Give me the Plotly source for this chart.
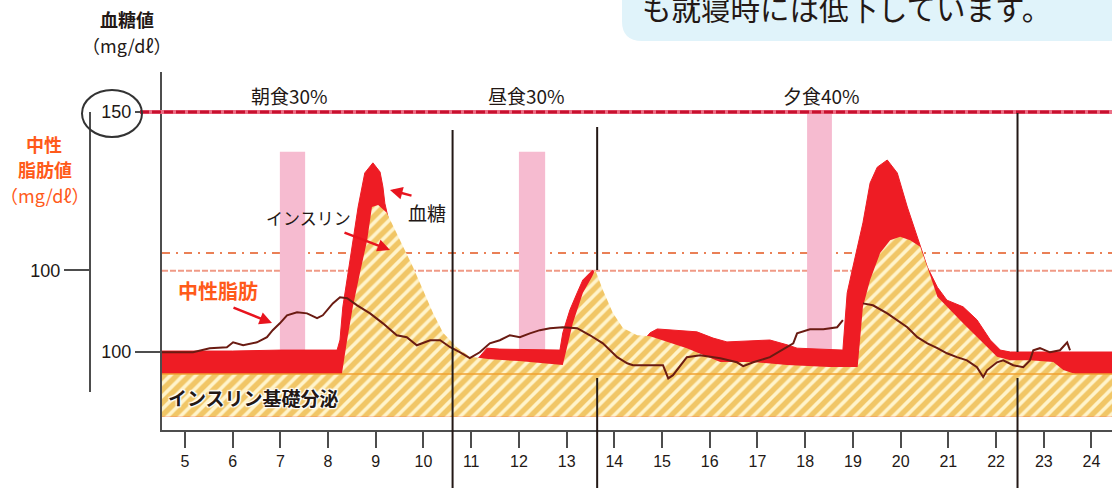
import plotly.graph_objects as go

# ---------------- data ----------------
hour_ticks = list(range(5, 25))
x_range = [4.52, 24.43]

# blood glucose (mg/dl)
glucose_h = [4.52, 6.0, 7.0, 8.19, 8.25, 8.31, 8.42, 8.52, 8.63, 8.77, 8.94,
             9.09, 9.15, 9.19, 9.23, 9.34, 9.61, 9.93, 10.35, 10.77, 11.08, 11.33,
             11.6, 12.5, 12.86, 12.92, 13.07, 13.22, 13.34, 13.49, 13.55, 13.70,
             13.91, 14.22, 14.54, 14.75, 14.90, 15.73, 16.07, 16.36, 17.26, 17.62,
             17.83, 18.79, 18.88, 19.0, 19.21, 19.36, 19.51, 19.72, 19.93, 20.14,
             20.35, 20.56, 20.77, 20.97, 21.31, 21.60, 21.88, 22.09, 22.30, 24.43]
glucose_v = [100.2, 100.2, 100.4, 100.4, 102.5, 109.4, 116.5, 123.3, 130.2, 137.3, 139.4,
             137.5, 134.4, 131.0, 129.2, 124.4, 117.1, 109.8, 101.5, 98.75, 97.9, 100.8,
             100.6, 100.4, 100.4, 104.0, 108.8, 112.3, 115.0, 116.5, 117.1, 112.9,
             106.7, 102.5, 101.5, 104.0, 104.8, 104.2, 102.9, 102.1, 102.5, 101.5,
             100.8, 100.4, 112.3, 117.7, 126.9, 135.2, 138.5, 140.0, 137.3, 130.2,
             124.0, 117.7, 113.5, 110.8, 109.4, 106.7, 102.5, 100.4, 100.0, 100.0]

# insulin (drawn on glucose scale)
insulin_h = [4.52, 8.29, 8.40, 8.52, 8.67, 8.82, 8.92, 9.05, 9.23, 9.51, 9.78, 9.99,
             10.20, 10.41, 10.70, 10.97, 11.4, 12.0, 12.92, 13.13, 13.34, 13.53, 13.60,
             13.76, 13.97, 14.18, 14.48, 14.75, 15.52, 16.22, 16.91, 17.62, 18.5, 19.10,
             19.21, 19.36, 19.57, 19.78, 19.99, 20.20, 20.41, 20.56, 20.77, 21.31, 21.67,
             22.02, 22.30, 22.71, 23.20, 23.41, 23.66, 24.43]
insulin_v = [95.4, 95.4, 102.5, 109.4, 116.5, 123.3, 130.2, 130.6, 129.0, 123.3, 117.7, 112.9,
             108.1, 104.0, 101.0, 99.0, 98.5, 98.1, 97.3, 106.0, 112.3, 115.6, 117.1,
             112.9, 108.1, 105.0, 103.5, 103.3, 100.8, 97.9, 97.9, 97.3, 96.9, 96.9,
             109.4, 115.0, 120.6, 123.3, 124.0, 123.3, 121.9, 117.7, 111.5, 106.0, 102.5,
             99.0, 98.3, 98.3, 97.9, 96.25, 95.4, 95.4]

basal_top = 95.4
basal_bottom = 86.5

# triglyceride (own scale, 100 tick)
tg_h = [4.52, 5.17, 5.52, 5.88, 6.01, 6.22, 6.51, 6.72, 6.84, 6.99, 7.14, 7.35, 7.56,
        7.77, 7.89, 8.10, 8.25, 8.40, 8.61, 8.88, 9.15, 9.44, 9.65, 9.86, 10.14, 10.35,
        10.56, 10.77, 10.97, 11.18, 11.39, 11.60, 11.81, 12.02, 12.23, 12.44, 12.65,
        12.92, 13.22, 13.49, 13.76, 14.06, 14.27, 14.39, 15.02, 15.13, 15.23, 15.52,
        15.80, 16.22, 16.57, 16.70, 16.91, 17.26, 17.75, 17.83, 18.10, 18.38, 18.67,
        18.79, None, 19.21, 19.42, 19.72, 19.93, 20.14, 20.35, 20.56, 20.77, 20.97,
        21.18, 21.39, 21.60, 21.73, 21.81, 22.02, 22.15, 22.36, 22.57, 22.71, 22.78,
        22.92, 23.13, 23.34, 23.49, 23.55]
tg_v = [66.3, 66.3, 68.0, 68.4, 70.4, 69.2, 70.4, 72.5, 75.4, 78.2, 81.5, 82.75, 82.3,
        80.3, 81.5, 86.4, 88.9, 88.5, 85.6, 82.3, 78.2, 73.3, 72.5, 69.2, 71.25, 71.25,
        68.4, 66.3, 63.9, 66.3, 70.0, 71.25, 73.3, 72.5, 74.1, 75.4, 76.2,
        76.6, 76.2, 73.3, 70.0, 64.3, 61.8, 61.0, 61.0, 55.6, 56.9, 64.3,
        65.1, 63.9, 62.2, 60.6, 62.2, 64.3, 70.0, 74.1, 75.8, 75.8, 76.6,
        79.5, None, 86.4, 85.6, 82.3, 79.5, 76.6, 72.5, 70.0, 68.0, 65.9,
        64.3, 63.0, 60.2, 56.1, 58.9, 62.2, 63.0, 61.0, 60.2, 63.0, 67.15,
        68.0, 66.3, 67.15, 70.4, 67.15]

meal_labels = ["朝食30%", "昼食30%", "夕食40%"]
meal_label_h = [7.2, 12.15, 18.35]
meal_start = [6.99, 12.0, 18.04]
meal_end = [7.52, 12.55, 18.56]
meal_top = [141.7, 141.7, 149.8]

glucose_limit = 150
tg_ref_upper = 120.6
tg_ref_lower = 116.9

# ---------------- layout helpers ----------------
W, H = 1112, 488
L, R, T, B = 90, 0, 72, 58


def px(x):
    return (x - L) / (W - L - R)


def py(y):
    return (H - B - y) / (H - T - B)


JP = "Noto Sans CJK JP"
NUM = "Liberation Sans, Arial, sans-serif"
INK = "#231815"
ORANGE = "#FF5A1A"
RED = "#EE1C24"
AXIS = "#4d4d4d"

fig = go.Figure()

# glucose red fill
fig.add_trace(go.Scatter(x=x_range, y=[basal_bottom, basal_bottom], mode="lines",
                         line=dict(width=0), hoverinfo="skip", showlegend=False))
fig.add_trace(go.Scatter(x=glucose_h, y=glucose_v, mode="lines", fill="tonexty",
                         fillcolor=RED, line=dict(color=RED, width=1),
                         showlegend=False, name="血糖"))
# insulin hatched fill (incl. basal)
fig.add_trace(go.Scatter(x=x_range, y=[basal_bottom, basal_bottom], mode="lines",
                         line=dict(width=0), hoverinfo="skip", showlegend=False))
fig.add_trace(go.Scatter(x=insulin_h, y=insulin_v, mode="lines", fill="tonexty",
                         fillcolor="#FFF4CC",
                         fillpattern=dict(shape="/", fgcolor="#E39800", bgcolor="#FFF4CC",
                                          size=9, solidity=0.6),
                         line=dict(width=0), showlegend=False, name="インスリン"))
# basal top orange line
fig.add_trace(go.Scatter(x=x_range, y=[basal_top, basal_top], mode="lines",
                         line=dict(color="#F0A030", width=1.5), hoverinfo="skip",
                         showlegend=False))
# triglyceride line
fig.add_trace(go.Scatter(x=tg_h, y=tg_v, mode="lines", xaxis="x", yaxis="y2",
                         line=dict(color="#6A1B12", width=2), connectgaps=False,
                         showlegend=False, name="中性脂肪"))

shapes = []
# meal bars
for s, e, t in zip(meal_start, meal_end, meal_top):
    shapes.append(dict(type="rect", xref="x", yref="y", x0=s, x1=e, y0=100, y1=t,
                       fillcolor="#F6BBD0", line=dict(width=0), layer="below"))
# TG reference lines
shapes.append(dict(type="line", xref="paper", yref="y", x0=px(162), x1=1,
                   y0=tg_ref_upper, y1=tg_ref_upper, layer="below",
                   line=dict(color="#EA8056", width=2, dash="8px,6px,2px,6px")))
shapes.append(dict(type="line", xref="paper", yref="y", x0=px(162), x1=1,
                   y0=tg_ref_lower, y1=tg_ref_lower, layer="below",
                   line=dict(color="#F09A86", width=2, dash="6px,2px")))
# glucose 150 limit line
shapes.append(dict(type="line", xref="paper", yref="y", x0=px(140), x1=1,
                   y0=glucose_limit, y1=glucose_limit, layer="above",
                   line=dict(color="#EC6F86", width=4)))
shapes.append(dict(type="line", xref="paper", yref="y", x0=px(140), x1=1,
                   y0=glucose_limit, y1=glucose_limit, layer="above",
                   line=dict(color="#C8102E", width=3, dash="9px,3px")))
# vertical divider segments
for xh, segs in [(10.61, [(130, 488)]),
                 (13.64, [(127, 270), (378, 488)]),
                 (22.45, [(113, 352), (378, 488)])]:
    for y0, y1 in segs:
        shapes.append(dict(type="line", xref="x", yref="paper", x0=xh, x1=xh,
                           y0=py(y1), y1=py(y0), layer="above",
                           line=dict(color=INK, width=2)))
# ellipse around 150
shapes.append(dict(type="circle", xref="paper", yref="paper", x0=px(82), x1=px(142),
                   y0=py(137), y1=py(90), line=dict(color="#333333", width=2)))
# top callout box
path = (f"M {px(622)},{py(-6)} L {px(1120)},{py(-6)} L {px(1120)},{py(41)} "
        f"L {px(642)},{py(41)} Q {px(622)},{py(41)} {px(622)},{py(21)} Z")
shapes.append(dict(type="path", xref="paper", yref="paper", path=path,
                   fillcolor="#E0F3FA", line=dict(width=0), layer="above"))

annotations = []


def txt(text, x, y, size, color=INK, bold=False, family=JP, **kw):
    annotations.append(dict(text=text, xref="paper", yref="paper", x=px(x), y=py(y),
                            xanchor=kw.pop("xanchor", "center"), yanchor="middle",
                            showarrow=False,
                            font=dict(family=family, size=size, color=color,
                                      weight=700 if bold else 400, **kw.pop("fontkw", {})),
                            **kw))


txt("も就寝時には低下しています。", 640, 7, 29.5, xanchor="left")
txt("血糖値", 127, 19, 18, bold=True)
txt("（mg/dℓ）", 127, 45, 18)
txt("中性", 44, 144, 18, color=ORANGE, bold=True)
txt("脂肪値", 45, 169, 18, color=ORANGE, bold=True)
txt("（mg/dℓ）", 45, 195, 18, color=ORANGE)
for lab, h in zip(meal_labels, meal_label_h):
    annotations.append(dict(text=lab, xref="x", yref="paper", x=h, y=py(95),
                            xanchor="center", yanchor="middle", showarrow=False,
                            font=dict(family=JP, size=19, color=INK)))
txt("インスリン", 308, 217, 17)
txt("血糖", 427, 212, 19)
txt("中性脂肪", 218, 290, 20, color=ORANGE, bold=True)
txt("インスリン基礎分泌", 253, 397, 19, bold=True,
    fontkw=dict(shadow="1px 1px 1px #fff, -1px -1px 1px #fff, 1px -1px 1px #fff, "
                       "-1px 1px 1px #fff, 0 0 3px #fff"))

# arrows
for hx, hy, ax, ay in [(390, 190, 23, 6), (390, 250, -47, -18), (272, 323, -40, -16)]:
    annotations.append(dict(text="", xref="paper", yref="paper", x=px(hx), y=py(hy),
                            ax=ax, ay=ay, showarrow=True, arrowhead=2, arrowsize=1,
                            arrowwidth=2.5, arrowcolor="#E8141E"))

fig.update_layout(
    width=W, height=H,
    margin=dict(l=L, r=R, t=T, b=B),
    paper_bgcolor="white", plot_bgcolor="rgba(0,0,0,0)",
    shapes=shapes, annotations=annotations,
    xaxis=dict(domain=[px(162), 1], range=x_range, tickvals=hour_ticks,
               ticks="outside", ticklen=16, tickwidth=2, tickcolor=AXIS,
               showline=True, linecolor=AXIS, linewidth=2, showgrid=False,
               zeroline=False, anchor="y",
               tickfont=dict(family=NUM, size=16, color=INK)),
    yaxis=dict(domain=[0, 1], range=[83.75, 158.33], tickvals=[100, 150],
               ticktext=["100", "150"], ticks="outside", ticklen=25, tickwidth=2,
               tickcolor=AXIS, showline=True, linecolor=AXIS, linewidth=2,
               showgrid=False, zeroline=False, anchor="x",
               tickfont=dict(family=NUM, size=18, color=INK)),
    yaxis2=dict(domain=[py(392), py(112)], range=[50, 165], tickvals=[100],
                ticks="outside", ticklen=25, tickwidth=2, tickcolor=AXIS,
                showline=True, linecolor=AXIS, linewidth=2, showgrid=False,
                zeroline=False, anchor="free", position=0,
                tickfont=dict(family=NUM, size=18, color=INK)),
)

fig.write_html("out.html",
               config={"displayModeBar": False},
               post_script="document.body.style.margin='0';"
                           "document.body.style.overflow='hidden';")
